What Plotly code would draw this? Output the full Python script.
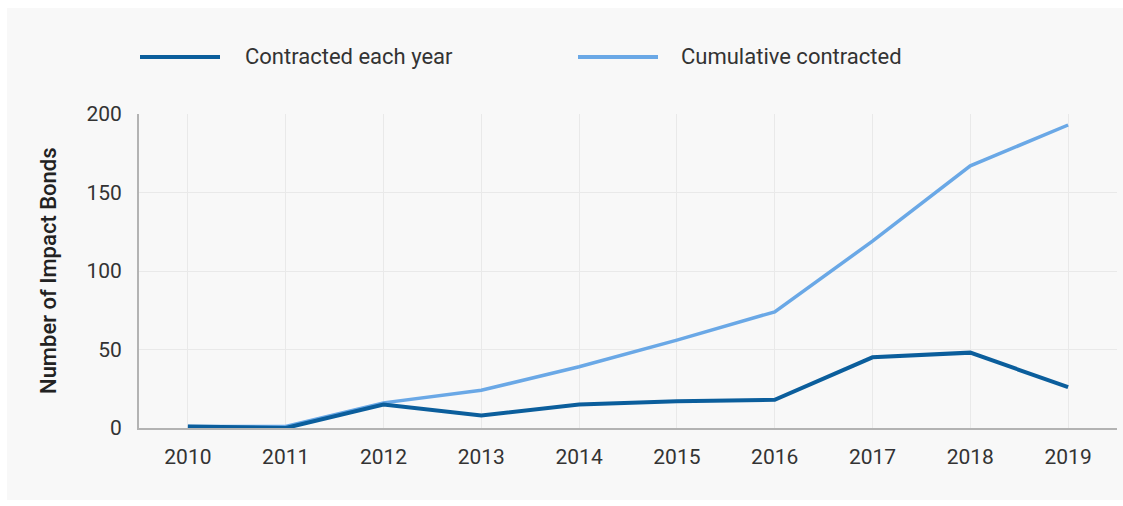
import plotly.graph_objects as go

years = ["2010", "2011", "2012", "2013", "2014", "2015", "2016", "2017", "2018", "2019"]
contracted_each_year = [1, 0, 15, 8, 15, 17, 18, 45, 48, 26]
cumulative_contracted = [1, 1, 16, 24, 39, 56, 74, 119, 167, 193]
series_names = ["Contracted each year", "Cumulative contracted"]
y_ticks = [0, 50, 100, 150, 200]

DARK = "#0b5e9c"
LIGHT = "#6aa8e6"

W, H = 1123, 506
L, R, T, B = 139, 6, 114, 78
PW, PH = W - L - R, H - T - B


def px(x):
    return (x - L) / PW


def py(y):
    return (H - B - y) / PH


fig = go.Figure()
fig.add_trace(go.Scatter(x=years, y=cumulative_contracted, mode="lines", name=series_names[1],
                         line=dict(color=LIGHT, width=3.5)))
fig.add_trace(go.Scatter(x=years, y=contracted_each_year, mode="lines", name=series_names[0],
                         line=dict(color=DARK, width=4)))

shapes = [
    dict(type="rect", xref="paper", yref="paper", x0=px(7), x1=px(1123), y0=py(500), y1=py(8),
         fillcolor="#f8f8f8", line=dict(width=0), layer="below"),
    dict(type="line", xref="paper", yref="paper", x0=px(140), x1=px(220), y0=py(57), y1=py(57),
         line=dict(color=DARK, width=4)),
    dict(type="line", xref="paper", yref="paper", x0=px(578), x1=px(658), y0=py(57), y1=py(57),
         line=dict(color=LIGHT, width=4)),
]

annotations = [
    dict(text=series_names[0], xref="paper", yref="paper", x=px(243), y=py(57), xanchor="left",
         yanchor="middle", showarrow=False, font=dict(size=22, color="#333333")),
    dict(text=series_names[1], xref="paper", yref="paper", x=px(679), y=py(57), xanchor="left",
         yanchor="middle", showarrow=False, font=dict(size=22, color="#333333")),
    dict(text="Number of Impact Bonds", xref="paper", yref="paper", x=px(48), y=py(271),
         xanchor="center", yanchor="middle", textangle=-90, showarrow=False,
         font=dict(size=22, color="#222222", family="Roboto Medium, Roboto")),
]

fig.update_layout(
    width=W, height=H,
    margin=dict(l=L, r=R, t=T, b=B),
    paper_bgcolor="white",
    plot_bgcolor="rgba(0,0,0,0)",
    font=dict(family="Roboto, sans-serif", size=21, color="#333333"),
    showlegend=False,
    shapes=shapes,
    annotations=annotations,
    xaxis=dict(type="category", range=[-0.5, 9.5], showgrid=True, gridcolor="#e9e9e9", gridwidth=1,
               showline=True, linecolor="#b3b3b3", linewidth=2, ticks="", ticklabelstandoff=9,
               tickfont=dict(size=21, color="#333333")),
    yaxis=dict(range=[0, 200], tickvals=y_ticks, showgrid=True, gridcolor="#e9e9e9", gridwidth=1,
               zeroline=False, showline=True, linecolor="#b3b3b3", linewidth=2, ticks="",
               ticklabelstandoff=11, tickfont=dict(size=21, color="#333333")),
)

fig.write_html("out.html", config={"displayModeBar": False},
               post_script="document.body.style.margin='0';document.body.style.overflow='hidden';")
